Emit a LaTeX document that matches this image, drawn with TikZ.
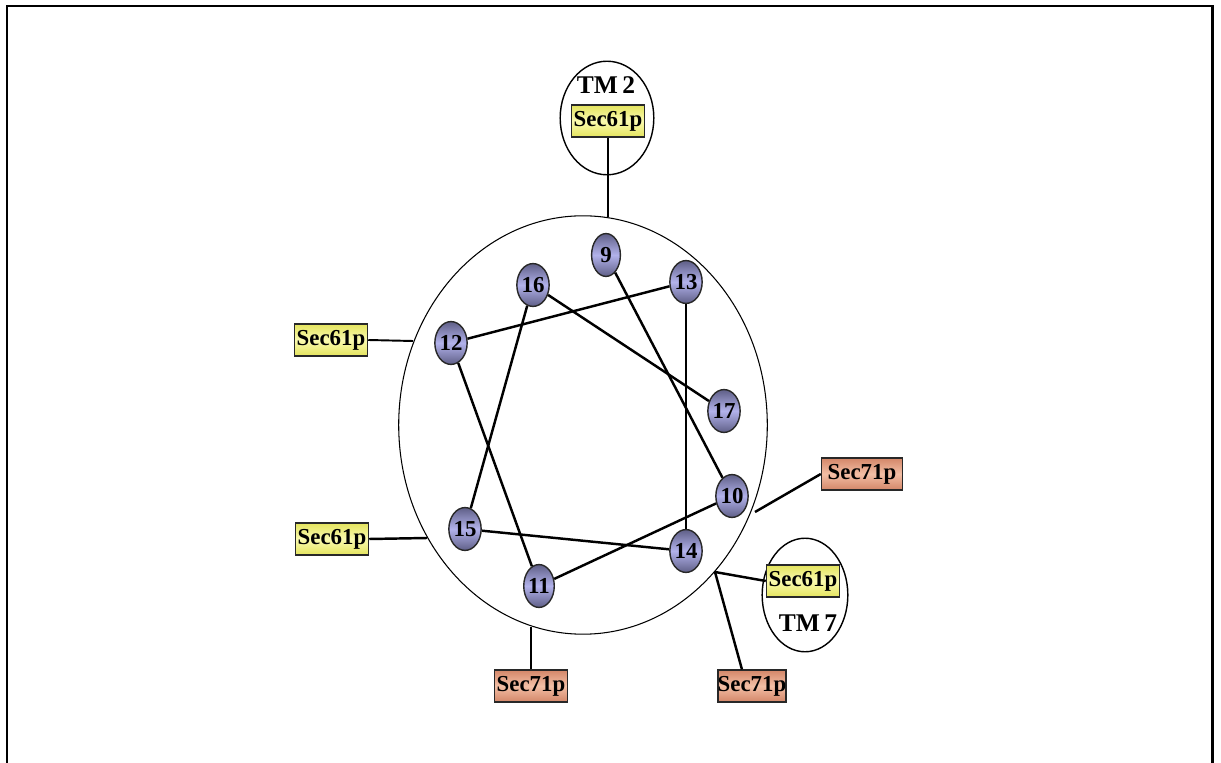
\documentclass[tikz,border=0pt]{standalone}
\usepackage{fontspec}
\setmainfont{Liberation Serif}
\usetikzlibrary{shapes.geometric}
\definecolor{resA}{RGB}{95,95,135}
\definecolor{resB}{RGB}{178,178,235}
\definecolor{yelA}{RGB}{228,228,95}
\definecolor{yelB}{RGB}{250,250,175}
\definecolor{salA}{RGB}{212,135,105}
\definecolor{salB}{RGB}{242,190,165}
\definecolor{edge}{RGB}{40,40,40}
\tikzset{
  lbl/.style={font=\fontsize{13}{15}\selectfont\bfseries},
  tmlbl/.style={font=\fontsize{14.5}{16}\selectfont\bfseries},
  residue/.style={ellipse, draw=edge, line width=0.8pt, minimum width=16.4pt, minimum height=24.4pt, inner sep=0pt,
    top color=resA, bottom color=resA, middle color=resB, font=\fontsize{13}{15}\selectfont\bfseries},
  yelbox/.style={rectangle, draw=edge, line width=0.9pt, minimum width=41.5pt, minimum height=18pt, inner sep=0pt,
    top color=yelA, bottom color=yelA, middle color=yelB, lbl},
  salbox/.style={rectangle, draw=edge, line width=0.9pt, minimum width=41.5pt, minimum height=18pt, inner sep=0pt,
    top color=salA, bottom color=salA, middle color=salB, lbl},
  link/.style={line width=1.4pt, black},
  tmring/.style={ellipse, draw=black, line width=0.8pt, inner sep=0pt},
}
\begin{document}
\begin{tikzpicture}[x=0.02cm,y=-0.02cm]
\useasboundingbox (0,0) rectangle (1221,763);
% frame
\draw[line width=1.7pt] (7,763) -- (7,6) -- (1212,6) -- (1212,763);
% big helix circle
\node[ellipse, draw=black, line width=0.6pt, minimum width=370*0.567pt, minimum height=420*0.567pt, inner sep=0pt] (helix) at (583,425) {};
% TM rings
\node[tmring, minimum width=94*0.567pt, minimum height=114*0.567pt] (tm2) at (607,118) {};
\node[tmring, minimum width=86*0.567pt, minimum height=114*0.567pt] (tm7) at (805,595) {};
\node[tmlbl] (tm2lbl) at (606,85) {TM\,2};
\node[tmlbl] (tm7lbl) at (808,623) {TM\,7};
% attachment points on the circle
\coordinate (pTop) at (608,217);
\coordinate (pLeftA) at (413,341);
\coordinate (pLeftB) at (427,538);
\coordinate (pBot) at (531,627);
\coordinate (pBR) at (715,572);
\coordinate (pRight) at (755,512);
% boxes
\node[yelbox] (b2) at (608,121) {Sec61p};
\node[yelbox] (bl1) at (331,340) {Sec61p};
\node[yelbox] (bl2) at (332,539) {Sec61p};
\node[yelbox] (b7) at (803,581) {Sec61p};
\node[salbox, minimum width=46pt] (r1) at (862,474) {Sec71p};
\node[salbox] (r2) at (531,686) {Sec71p};
\node[salbox, minimum width=37pt] (r3) at (752,686) {Sec71p};
% box connectors
\draw[link, line width=1.1pt] (b2.south) -- (pTop);
\draw[link, line width=1.1pt] (bl1.east) -- (pLeftA);
\draw[link] (bl2.east) -- (pLeftB);
\draw[link] (r2.north) -- (pBot);
\draw[link] (b7.west) -- (pBR);
\path (r3.north west) ++(25,0) coordinate (r3top);
\draw[link] (r3top) -- (pBR);
\draw[link] (r1.west) -- (pRight);
% residues
\node[residue] (n9) at (606,255) {9};
\node[residue] (n16) at (533,285) {16};
\node[residue] (n13) at (686,282) {13};
\node[residue] (n12) at (451,343) {12};
\node[residue] (n17) at (724,411) {17};
\node[residue] (n10) at (732,496) {10};
\node[residue] (n15) at (465,529) {15};
\node[residue] (n14) at (686,551) {14};
\node[residue] (n11) at (539,586) {11};
% helical wheel connections
\draw[link] (n9) -- (n10);
\draw[link] (n10) -- (n11);
\draw[link] (n11) -- (n12);
\draw[link] (n12) -- (n13);
\draw[link] (n13) -- (n14);
\draw[link] (n14) -- (n15);
\draw[link] (n15) -- (n16);
\draw[link] (n16) -- (n17);
\end{tikzpicture}
\end{document}
